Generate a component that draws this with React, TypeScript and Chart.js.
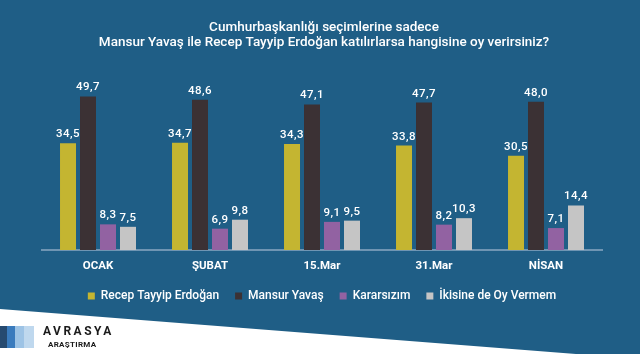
import React, { useEffect, useRef } from "react";
import { Chart, registerables } from "chart.js";

Chart.register(...registerables);

const categories = ["OCAK", "ŞUBAT", "15.Mar", "31.Mar", "NİSAN"];
const seriesNames = ["Recep Tayyip Erdoğan", "Mansur Yavaş", "Kararsızım", "İkisine de Oy Vermem"];
const erdogan = [34.5, 34.7, 34.3, 33.8, 30.5];
const yavas = [49.7, 48.6, 47.1, 47.7, 48.0];
const kararsiz = [8.3, 6.9, 9.1, 8.2, 7.1];
const ikisine = [7.5, 9.8, 9.5, 10.3, 14.4];
const seriesColors = ["#c4b531", "#3b3134", "#9262a2", "#c5c5c5"];
const titleLines = [
  "Cumhurbaşkanlığı seçimlerine sadece",
  "Mansur Yavaş ile Recep Tayyip Erdoğan katılırlarsa hangisine oy verirsiniz?",
];
const logoTitle = "AVRASYA";
const logoSub = "ARAŞTIRMA";

const BG = "#1f5e86";
const FONT = "Roboto";

const backgroundPlugin = {
  id: "bgFooter",
  beforeDraw(chart: any) {
    const { ctx, width, height } = chart;
    ctx.save();
    ctx.fillStyle = BG;
    ctx.fillRect(0, 0, width, height);
    // white footer wedge
    ctx.fillStyle = "#ffffff";
    ctx.beginPath();
    ctx.moveTo(0, 309);
    ctx.lineTo(width, 359);
    ctx.lineTo(width, height + 10);
    ctx.lineTo(0, height + 10);
    ctx.closePath();
    ctx.fill();
    // logo blocks
    const blocks: [number, number, string][] = [
      [0, 7, "#264a70"],
      [7, 15, "#3a7bbd"],
      [15, 24, "#9dc3e5"],
      [24, 34, "#bfd8ee"],
    ];
    blocks.forEach(([x0, x1, c]) => {
      ctx.fillStyle = c;
      ctx.fillRect(x0, 326, x1 - x0, 22);
    });
    ctx.fillStyle = "#1b1b1b";
    ctx.textBaseline = "middle";
    ctx.textAlign = "left";
    ctx.font = `bold 12px ${FONT}`;
    (ctx as any).letterSpacing = "2.5px";
    ctx.fillText(logoTitle, 43, 331.5);
    ctx.font = `bold 8px ${FONT}`;
    (ctx as any).letterSpacing = "0.3px";
    ctx.fillText(logoSub, 48, 345);
    (ctx as any).letterSpacing = "0px";
    // title
    ctx.fillStyle = "#ffffff";
    ctx.textAlign = "center";
    ctx.font = `500 13.5px ${FONT}`;
    ctx.fillText(titleLines[0], 324, 27.5);
    ctx.fillText(titleLines[1], 324, 43);
    ctx.restore();
  },
};

const valueLabelPlugin = {
  id: "valueLabels",
  afterDatasetsDraw(chart: any) {
    const { ctx } = chart;
    ctx.save();
    ctx.fillStyle = "#ffffff";
    ctx.textAlign = "center";
    ctx.textBaseline = "alphabetic";
    ctx.font = `500 11.5px ${FONT}`;
    (ctx as any).letterSpacing = "0.5px";
    chart.data.datasets.forEach((ds: any, i: number) => {
      const meta = chart.getDatasetMeta(i);
      meta.data.forEach((bar: any, j: number) => {
        const v = ds.data[j] as number;
        ctx.fillText(v.toFixed(1).replace(".", ","), bar.x, bar.y - 6);
      });
    });
    ctx.restore();
  },
};

export default function App() {
  const ref = useRef<HTMLCanvasElement | null>(null);

  useEffect(() => {
    document.body.style.margin = "0";
    if (!ref.current) return;
    const values = [erdogan, yavas, kararsiz, ikisine];
    const chart = new Chart(ref.current, {
      type: "bar",
      data: {
        labels: categories,
        datasets: values.map((d, i) => ({
          label: seriesNames[i],
          data: d,
          backgroundColor: seriesColors[i],
          borderWidth: 0,
          categoryPercentage: 0.714,
          barPercentage: 0.8,
        })),
      },
      options: {
        responsive: false,
        animation: false,
        layout: { padding: { top: 80, left: 42, right: 38, bottom: 42 } },
        scales: {
          x: {
            grid: { display: false, drawTicks: false },
            border: { display: true, color: "#6f95b3", width: 2 },
            ticks: {
              color: "#ffffff",
              font: { family: FONT, size: 11.5, weight: "bold" },
              padding: 9,
            },
            afterFit: (scale: any) => {
              scale.height = 24;
            },
          },
          y: {
            display: false,
            min: 0,
            max: 55,
          },
        },
        plugins: {
          title: { display: false },
          tooltip: { enabled: false },
          legend: {
            display: true,
            position: "bottom",
            labels: {
              color: "#ffffff",
              boxWidth: 7,
              boxHeight: 7,
              padding: 16,
              font: { family: FONT, size: 12, weight: "500" },
            },
          },
        },
      },
      plugins: [backgroundPlugin, valueLabelPlugin],
    });
    return () => chart.destroy();
  }, []);

  return (
    <div style={{ position: "absolute", left: 0, top: 0, width: 640, height: 354 }}>
      <canvas ref={ref} width={640} height={354} style={{ display: "block" }} />
    </div>
  );
}
